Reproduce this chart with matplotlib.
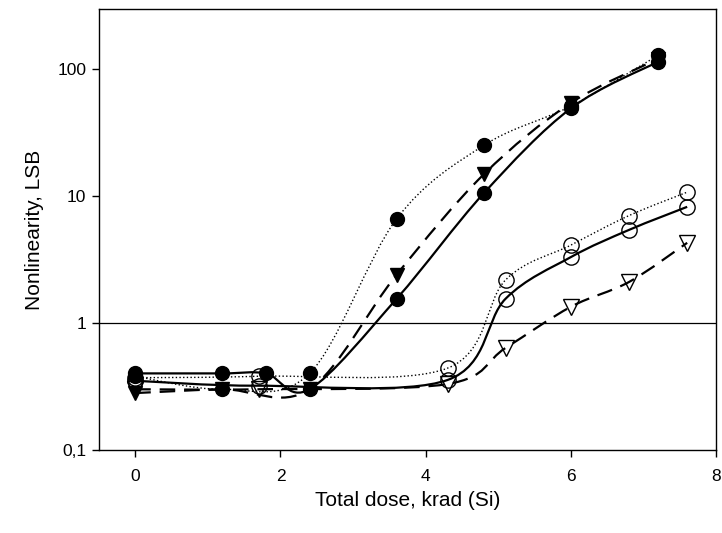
import numpy as np
import matplotlib
matplotlib.use("Agg")
import matplotlib.pyplot as plt
from matplotlib.path import Path
from matplotlib.patches import PathPatch
from matplotlib.ticker import FixedLocator, FixedFormatter, NullLocator

plt.rcParams['font.family'] = ['Liberation Sans', 'DejaVu Sans']

# ---- data ----
x_fill = [0, 1.2, 1.8, 2.4, 3.6, 4.8, 6.0, 7.2]
y_fill_solid = [0.40, 0.40, 0.40, 0.30, 1.55, 10.5, 49, 114]

x_fill_dot = [0, 1.2, 2.4, 3.6, 4.8, 6.0, 7.2]
y_fill_dot = [0.38, 0.30, 0.40, 6.6, 25, 51, 128]

x_tri_fill = [0, 1.2, 2.4, 3.6, 4.8, 6.0, 7.2]
y_tri_fill = [0.28, 0.30, 0.30, 2.4, 14.8, 54, 120]

x_open = [0, 1.7, 4.3, 5.1, 6.0, 6.8, 7.6]
y_open_dot = [0.37, 0.38, 0.44, 2.18, 4.1, 7.0, 10.7]
y_open_solid = [0.35, 0.32, 0.355, 1.55, 3.3, 5.4, 8.2]

x_tri_open = [0, 1.7, 4.3, 5.1, 6.0, 6.8, 7.6]
y_tri_open = [0.30, 0.30, 0.33, 0.635, 1.34, 2.1, 4.27]

x_ticks = [0, 2, 4, 6, 8]
y_ticks = [0.1, 1, 10, 100]
y_tick_labels = ["0,1", "1", "10", "100"]


def smooth_path(xs, ys):
    """Catmull-Rom curve through the points, drawn as cubic Bezier segments
    (control points computed in log-y space)."""
    px = np.asarray(xs, float)
    py = np.log10(np.asarray(ys, float))
    n = len(px)
    verts = [(px[0], py[0])]
    codes = [Path.MOVETO]
    for i in range(n - 1):
        p0 = (px[max(i - 1, 0)], py[max(i - 1, 0)])
        p1 = (px[i], py[i])
        p2 = (px[i + 1], py[i + 1])
        p3 = (px[min(i + 2, n - 1)], py[min(i + 2, n - 1)])
        c1 = (p1[0] + (p2[0] - p0[0]) / 6, p1[1] + (p2[1] - p0[1]) / 6)
        c2 = (p2[0] - (p3[0] - p1[0]) / 6, p2[1] - (p3[1] - p1[1]) / 6)
        verts += [c1, c2, p2]
        codes += [Path.CURVE4] * 3
    verts = [(vx, 10 ** vy) for vx, vy in verts]
    return Path(verts, codes)


fig = plt.figure(figsize=(7.22, 5.33), dpi=100)
ax = fig.add_axes([0.137, 0.156, 0.855, 0.827])
ax.set_yscale('log')
ax.set_xlim(-0.5, 8)
ax.set_ylim(0.1, 296)

ax.axhline(1, color='black', lw=0.9, zorder=1)

series = [
    (x_fill, y_fill_solid, '-', None, 'o', 'black'),
    (x_fill_dot, y_fill_dot, ':', None, 'o', 'black'),
    (x_tri_fill, y_tri_fill, '--', (7, 4), 'v', 'black'),
    (x_open, y_open_dot, ':', None, 'o', 'none'),
    (x_open, y_open_solid, '-', None, 'o', 'none'),
    (x_tri_open, y_tri_open, '--', (7, 4), 'v', 'none'),
]

for xs, ys, ls, dashes, mk, fc in series:
    lw = 1.0 if ls == ':' else 1.6
    patch = PathPatch(smooth_path(xs, ys), facecolor='none', edgecolor='black',
                      lw=lw, linestyle=ls if dashes is None else (0, dashes),
                      zorder=2, capstyle='butt')
    ax.add_patch(patch)
    ms = 11 if fc == 'none' else 10
    ax.plot(xs, ys, linestyle='none', marker=mk, markersize=ms,
            markerfacecolor=fc, markeredgecolor='black', markeredgewidth=1.0,
            zorder=3)

ax.xaxis.set_major_locator(FixedLocator(x_ticks))
ax.set_xticklabels([str(v) for v in x_ticks])
ax.yaxis.set_major_locator(FixedLocator(y_ticks))
ax.yaxis.set_major_formatter(FixedFormatter(y_tick_labels))
ax.yaxis.set_minor_locator(NullLocator())
ax.xaxis.set_minor_locator(NullLocator())
ax.tick_params(direction='out', length=5, width=1, labelsize=12.5)
ax.tick_params(axis='x', pad=9)
ax.tick_params(axis='y', pad=4)

for s in ax.spines.values():
    s.set_linewidth(1.0)
    s.set_color('black')

ax.set_xlabel('Total dose, krad (Si)', fontsize=15, labelpad=5)
ax.set_ylabel('Nonlinearity, LSB', fontsize=15, labelpad=10)

fig.savefig('out.png', dpi=100)
